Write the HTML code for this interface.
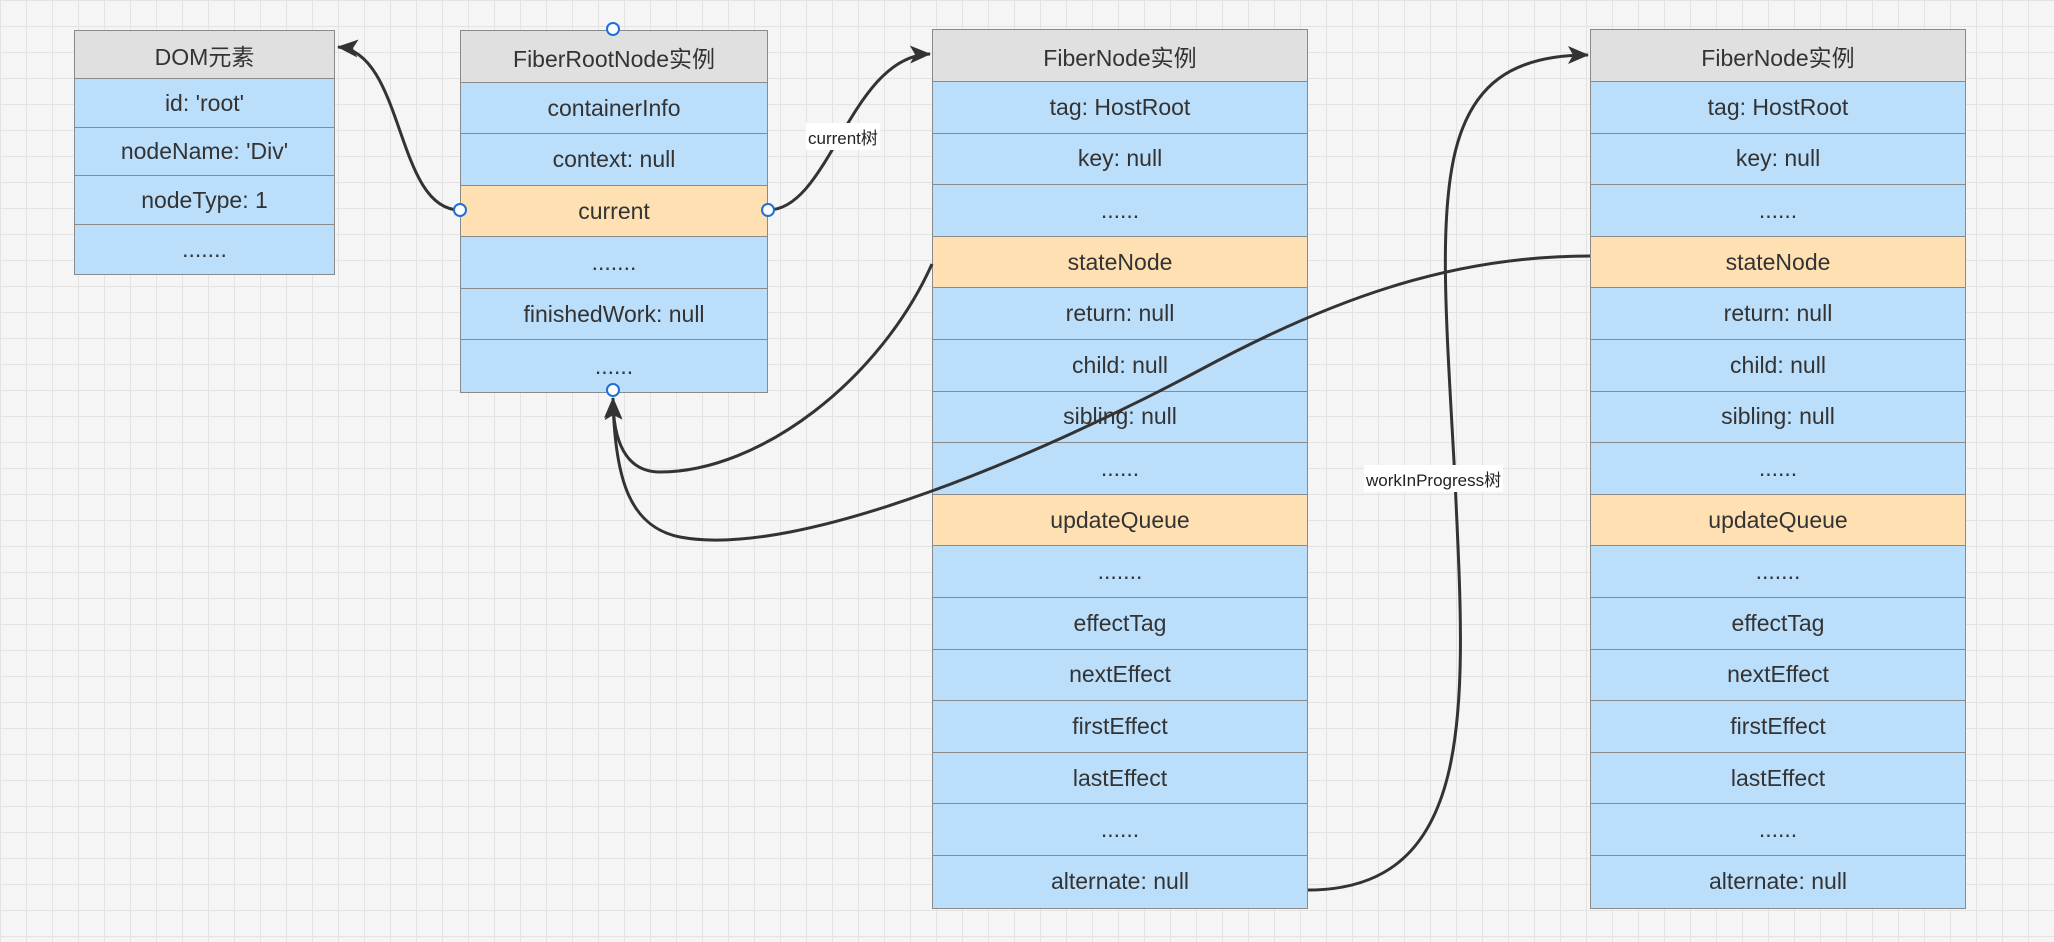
<!DOCTYPE html>
<html><head><meta charset="utf-8"><style>
body{margin:0;width:2054px;height:942px;overflow:hidden;background-color:#f5f5f5;
background-image:linear-gradient(#e3e3e3 1px,transparent 1px),linear-gradient(90deg,#e3e3e3 1px,transparent 1px);
background-size:26px 26px;font-family:"Liberation Sans","Noto Sans CJK SC",sans-serif;position:relative}
.t{position:absolute;border:1.5px solid #8a8a8a;box-sizing:border-box}
.t div{box-sizing:border-box;border-bottom:1.5px solid #8a8a8a;display:flex;align-items:center;justify-content:center;color:#333;font-size:23px;background:#bbdefb}
.t div:last-child{border-bottom:none}
.t div.h{background:#e0e0e0}
.t div.o{background:#ffe0b2}
svg{position:absolute;left:0;top:0}
.lbl{position:absolute;background:#fff;font-size:17px;color:#222;padding:1px 2px;white-space:nowrap}
</style></head><body>
<div class="t" style="left:74px;top:30px;width:261px">
<div class="h" style="height:48px">DOM元素</div>
<div style="height:49px">id: 'root'</div>
<div style="height:48px">nodeName: 'Div'</div>
<div style="height:49px">nodeType: 1</div>
<div style="height:49px">.......</div>
</div>
<div class="t" style="left:460px;top:30px;width:308px">
<div class="h" style="height:52px">FiberRootNode实例</div>
<div style="height:51px">containerInfo</div>
<div style="height:52px">context: null</div>
<div class="o" style="height:51px">current</div>
<div style="height:52px">.......</div>
<div style="height:51px">finishedWork: null</div>
<div style="height:52px">......</div>
</div>
<div class="t" style="left:932px;top:29px;width:376px">
<div class="h" style="height:52px">FiberNode实例</div>
<div style="height:51.6px">tag: HostRoot</div>
<div style="height:51.6px">key: null</div>
<div style="height:51.6px">......</div>
<div class="o" style="height:51.6px">stateNode</div>
<div style="height:51.6px">return: null</div>
<div style="height:51.6px">child: null</div>
<div style="height:51.6px">sibling: null</div>
<div style="height:51.6px">......</div>
<div class="o" style="height:51.6px">updateQueue</div>
<div style="height:51.6px">.......</div>
<div style="height:51.6px">effectTag</div>
<div style="height:51.6px">nextEffect</div>
<div style="height:51.6px">firstEffect</div>
<div style="height:51.6px">lastEffect</div>
<div style="height:51.6px">......</div>
<div style="height:51.6px">alternate: null</div>
</div>
<div class="t" style="left:1590px;top:29px;width:376px">
<div class="h" style="height:52px">FiberNode实例</div>
<div style="height:51.6px">tag: HostRoot</div>
<div style="height:51.6px">key: null</div>
<div style="height:51.6px">......</div>
<div class="o" style="height:51.6px">stateNode</div>
<div style="height:51.6px">return: null</div>
<div style="height:51.6px">child: null</div>
<div style="height:51.6px">sibling: null</div>
<div style="height:51.6px">......</div>
<div class="o" style="height:51.6px">updateQueue</div>
<div style="height:51.6px">.......</div>
<div style="height:51.6px">effectTag</div>
<div style="height:51.6px">nextEffect</div>
<div style="height:51.6px">firstEffect</div>
<div style="height:51.6px">lastEffect</div>
<div style="height:51.6px">......</div>
<div style="height:51.6px">alternate: null</div>
</div>
<svg width="2054" height="942">
<defs>
<marker id="b" markerWidth="24" markerHeight="24" refX="20" refY="12" orient="auto" markerUnits="userSpaceOnUse" viewBox="0 0 24 24"><path d="M0,3 L21,12 L0,21 L5,12z" fill="#333"/></marker></defs>
<g fill="none" stroke="#333" stroke-width="3">
<path d="M460,210 C395,210 405,52 338,47" marker-end="url(#b)"/>
<path d="M768,210 C830,210 850,56 930,54" marker-end="url(#b)"/>
<path d="M932,264 C880,380 760,472 660,472 C625,472 613,440 613,398" marker-end="url(#b)"/>
<path d="M1590,256 C1450,256 1330,300 1200,370 C1050,450 800,560 680,537 C630,527 615,480 613,400" marker-end="url(#b)"/>
<path d="M1308,890 C1480,890 1465,700 1455,480 C1440,200 1420,55 1588,55" marker-end="url(#b)"/>
</g>
<g fill="#fff" stroke="#1e6fd9" stroke-width="2">
<circle cx="460" cy="210" r="6"/><circle cx="768" cy="210" r="6"/><circle cx="613" cy="390" r="6"/><circle cx="613" cy="29" r="6"/>
</g>
</svg>
<div class="lbl" style="left:806px;top:123px">current树</div>
<div class="lbl" style="left:1364px;top:465px">workInProgress树</div>
</body></html>
